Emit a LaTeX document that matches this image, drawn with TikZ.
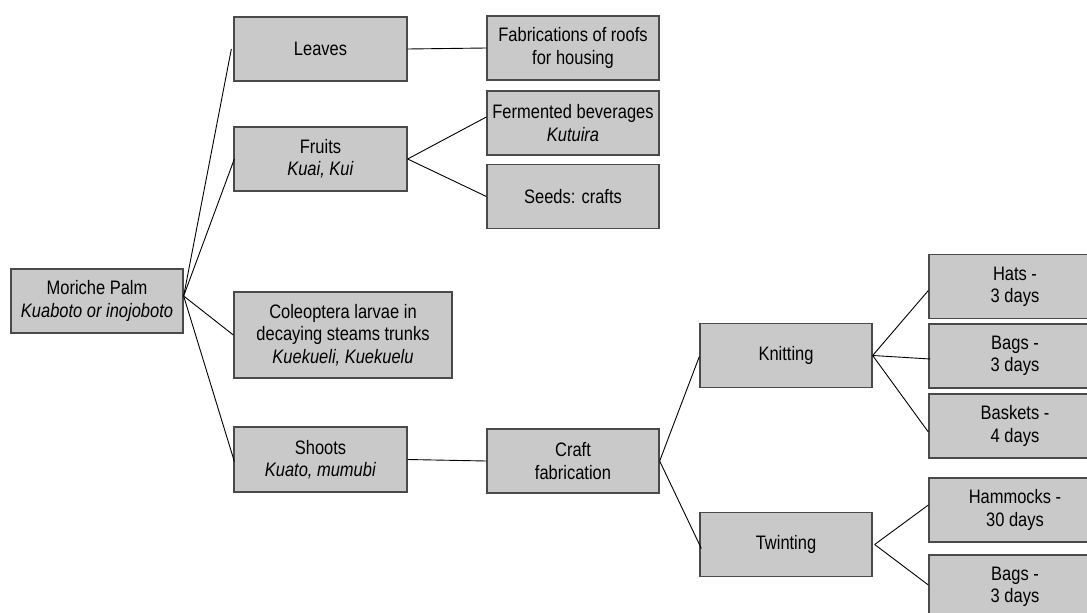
\documentclass[tikz,border=0pt]{standalone}
\usepackage{fontspec}
\setmainfont{Liberation Sans}[FakeStretch=0.845]
\usetikzlibrary{calc}
\definecolor{boxfill}{HTML}{C9C9C9}
\definecolor{boxline}{HTML}{4A4A4A}
\begin{document}
\begin{tikzpicture}[x=1pt,y=-1pt,
  box/.style={draw=boxline, fill=boxfill, line width=1.3pt, minimum width=172pt,
    minimum height=64pt, inner sep=0pt, align=center,
    font=\fontsize{19.5}{22.3}\selectfont},
  link/.style={draw=black, line width=0.9pt}]
\useasboundingbox (0,0) rectangle (1087,613);
\clip (0,0) rectangle (1087,613);

\node[box] (palm) at (97,301) {Moriche Palm\\\textit{Kuaboto or inojoboto}};
\node[box, minimum width=173pt] (leaves) at (320.5,49) {Leaves};
\node[box, minimum width=173pt] (fruits) at (320.5,159) {Fruits\\\textit{Kuai, Kui}};
\node[box, minimum width=218pt, minimum height=86pt] (col) at (343,335)
  {Coleoptera larvae in\\decaying steams trunks\\\textit{Kuekueli, Kuekuelu}};
\node[box, minimum width=173pt, minimum height=65pt] (shoots) at (320.5,459.5) {Shoots\\\textit{Kuato, mumubi}};

\node[box] (fab) at (573,48) {Fabrications of roofs\\for housing};
\node[box] (ferm) at (573,123) {Fermented beverages\\\textit{Kutuira}};
\node[box] (seeds) at (573,196.5) {Seeds: crafts};
\node[box] (craft) at (573,461) {Craft\\fabrication};

\node[box] (knit) at (786,355.5) {Knitting};
\node[box] (twint) at (786,544.5) {Twinting};

\node[box] (hats) at (1015,286.5) {Hats -\\3 days};
\node[box] (bagsa) at (1015,356) {Bags -\\3 days};
\node[box] (baskets) at (1015,426) {Baskets -\\4 days};
\node[box] (hamm) at (1015,510) {Hammocks -\\30 days};
\node[box] (bagsb) at (1015,587) {Bags -\\3 days};

\coordinate (pe) at ($(palm.east)+(0,-5)$);
\draw[link] (pe) -- ($(leaves.west)+(-2,0)$);
\draw[link] (pe) -- ($(fruits.west)+(1,0)$);
\draw[link] (pe) -- (col.west);
\draw[link] (pe) -- ($(shoots.west)+(1,2)$);

\draw[link] (leaves.east) -- (fab.west);
\draw[link] (fruits.east) -- ($(ferm.west)+(0,-6)$);
\draw[link] (fruits.east) -- (seeds.west);
\draw[link] (shoots.east) -- (craft.west);

\draw[link] (craft.east) -- ($(knit.west)+(0,1)$);
\draw[link] (craft.east) -- ($(twint.west)+(2,4)$);

\draw[link] (knit.east) -- ($(hats.west)+(0,4)$);
\draw[link] (knit.east) -- ($(bagsa.west)+(2,3)$);
\draw[link] (knit.east) -- ($(baskets.west)+(0,6)$);

\draw[link] ($(twint.east)+(2,0)$) -- ($(hamm.west)+(0,-5)$);
\draw[link] ($(twint.east)+(2,0)$) -- ($(bagsb.west)+(0,-2)$);
\end{tikzpicture}
\end{document}
